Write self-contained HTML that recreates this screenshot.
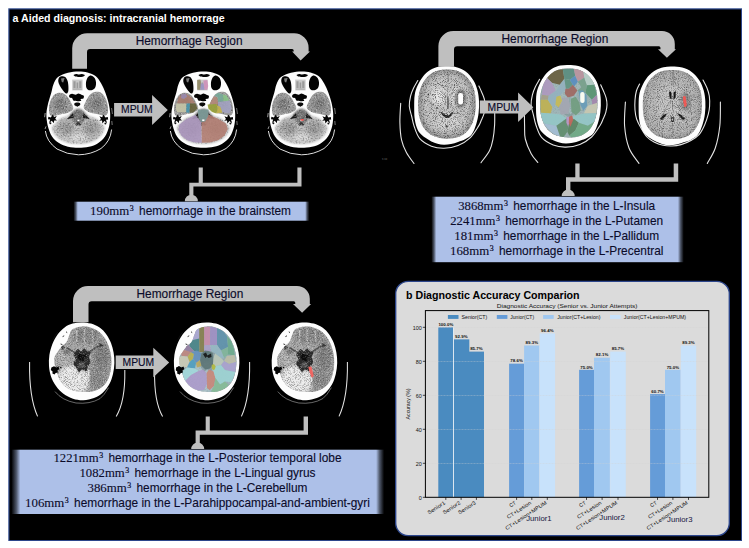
<!DOCTYPE html>
<html><head><meta charset="utf-8"><title>figure</title>
<style>
html,body{margin:0;padding:0;background:#fff;}
body{width:749px;height:548px;overflow:hidden;font-family:"Liberation Sans",sans-serif;}
svg{display:block;position:absolute;left:0;top:0;}
</style></head><body>
<svg width="749" height="548" viewBox="0 0 749 548">
<defs>
<filter id="soft" x="-5%" y="-30%" width="110%" height="160%"><feGaussianBlur stdDeviation="1.5 0.8"/></filter>
<filter id="spkB" x="0" y="0" width="100%" height="100%" color-interpolation-filters="sRGB"><feTurbulence type="fractalNoise" baseFrequency="1.1" numOctaves="2" seed="11"/><feColorMatrix type="matrix" values="0 0 0 0 0.28  0 0 0 0 0.28  0 0 0 0 0.28  3.4 0 0 0 -1.62"/><feGaussianBlur stdDeviation="0.4"/></filter>
<filter id="spkB3" x="0" y="0" width="100%" height="100%" color-interpolation-filters="sRGB"><feTurbulence type="fractalNoise" baseFrequency="1.1" numOctaves="2" seed="23"/><feColorMatrix type="matrix" values="0 0 0 0 0.2  0 0 0 0 0.2  0 0 0 0 0.2  3.0 0 0 0 -1.4"/><feGaussianBlur stdDeviation="0.4"/></filter>
<filter id="spkC" x="0" y="0" width="100%" height="100%" color-interpolation-filters="sRGB"><feTurbulence type="fractalNoise" baseFrequency="1.25" numOctaves="2" seed="5"/><feColorMatrix type="matrix" values="0 0 0 0 0.2  0 0 0 0 0.2  0 0 0 0 0.2  3.4 0 0 0 -1.5"/><feGaussianBlur stdDeviation="0.4"/></filter>
<filter id="spkA" x="0" y="0" width="100%" height="100%" color-interpolation-filters="sRGB"><feTurbulence type="fractalNoise" baseFrequency="0.6" numOctaves="2" seed="3"/><feColorMatrix type="matrix" values="0 0 0 0 0.0  0 0 0 0 0.0  0 0 0 0 0.0  3.0 0 0 0 -1.45"/><feGaussianBlur stdDeviation="0.4"/></filter>
<filter id="spkW" x="0" y="0" width="100%" height="100%" color-interpolation-filters="sRGB"><feTurbulence type="fractalNoise" baseFrequency="0.9" numOctaves="2" seed="17"/><feColorMatrix type="matrix" values="0 0 0 0 1.0  0 0 0 0 1.0  0 0 0 0 1.0  3.2 0 0 0 -1.65"/><feGaussianBlur stdDeviation="0.4"/></filter>
<filter id="spkCol" x="0" y="0" width="100%" height="100%" color-interpolation-filters="sRGB"><feTurbulence type="fractalNoise" baseFrequency="1.0" numOctaves="2" seed="31"/><feColorMatrix type="matrix" values="0 0 0 0 0.15  0 0 0 0 0.15  0 0 0 0 0.15  3 0 0 0 -1.35"/><feGaussianBlur stdDeviation="0.4"/></filter>
<filter id="b06"><feGaussianBlur stdDeviation="0.6"/></filter>
<filter id="b1"><feGaussianBlur stdDeviation="1"/></filter>
<filter id="b15"><feGaussianBlur stdDeviation="1.5"/></filter>
<filter id="b2"><feGaussianBlur stdDeviation="2.2"/></filter>
<filter id="b3"><feGaussianBlur stdDeviation="3.2"/></filter>
<filter id="b03"><feGaussianBlur stdDeviation="0.35"/></filter>
<clipPath id="clipA"><path d="M78.5 71.6C81.75 71.57 84.62 71.83 87.5 72.6C90.38 73.37 93.52 74.38 95.8 76.2C98.08 78.02 99.58 80.7 101.2 83.5C102.82 86.3 104.27 89.75 105.5 93C106.73 96.25 107.82 99.5 108.6 103C109.38 106.5 110.1 110.17 110.2 114C110.3 117.83 110.07 122.25 109.2 126C108.33 129.75 106.87 133.63 105 136.5C103.13 139.37 100.67 141.48 98 143.2C95.33 144.92 92.25 146.03 89 146.8C85.75 147.57 82 147.8 78.5 147.8C75 147.8 71.25 147.6 68 146.8C64.75 146 61.67 144.72 59 143C56.33 141.28 53.87 139.33 52 136.5C50.13 133.67 48.73 129.75 47.8 126C46.87 122.25 46.33 117.83 46.4 114C46.47 110.17 47.4 106.5 48.2 103C49 99.5 50.3 96.17 51.2 93C52.1 89.83 52.47 86.67 53.6 84C54.73 81.33 55.6 78.87 58 77C60.4 75.13 64.58 73.7 68 72.8C71.42 71.9 75.25 71.63 78.5 71.6Z"/></clipPath>
<clipPath id="clipAtissue"><path d="M54.6 94.6C56.33 93.13 58.63 92.63 60.6 92.8C62.57 92.97 64.67 94 66.4 95.6C68.13 97.2 69.87 100.27 71 102.4C72.13 104.53 73.63 106.73 73.2 108.4C72.77 110.07 70.6 111.4 68.4 112.4C66.2 113.4 62.83 113.8 60 114.4C57.17 115 53.23 116.67 51.4 116C49.57 115.33 49.2 112.8 49 110.4C48.8 108 49.27 104.23 50.2 101.6C51.13 98.97 52.87 96.07 54.6 94.6Z"/><path d="M102 93.4C100.27 91.93 97.97 91.6 96 91.8C94.03 92 91.9 92.97 90.2 94.6C88.5 96.23 86.87 99.4 85.8 101.6C84.73 103.8 83.33 106.07 83.8 107.8C84.27 109.53 86.4 110.97 88.6 112C90.8 113.03 94.17 113.4 97 114C99.83 114.6 103.77 116.27 105.6 115.6C107.43 114.93 107.87 112.5 108 110C108.13 107.5 107.4 103.37 106.4 100.6C105.4 97.83 103.73 94.87 102 93.4Z"/><path d="M78.3 108.5C79.87 108.5 81.38 109.33 83 110.5C84.62 111.67 85.83 114.17 88 115.5C90.17 116.83 93.83 117.17 96 118.5C98.17 119.83 99.57 121.92 101 123.5C102.43 125.08 104.52 126.08 104.6 128C104.68 129.92 103.1 132.95 101.5 135C99.9 137.05 97.58 138.92 95 140.3C92.42 141.68 88.78 142.7 86 143.3C83.22 143.9 80.97 143.9 78.3 143.9C75.63 143.9 72.8 143.9 70 143.3C67.2 142.7 64 141.68 61.5 140.3C59 138.92 56.58 137.05 55 135C53.42 132.95 51.92 129.92 52 128C52.08 126.08 54.08 125.08 55.5 123.5C56.92 121.92 58.33 119.83 60.5 118.5C62.67 117.17 66.32 116.83 68.5 115.5C70.68 114.17 71.97 111.67 73.6 110.5C75.23 109.33 76.73 108.5 78.3 108.5Z"/></clipPath>
<g id="brainA">
<path d="M78.5 71.6C81.75 71.57 84.62 71.83 87.5 72.6C90.38 73.37 93.52 74.38 95.8 76.2C98.08 78.02 99.58 80.7 101.2 83.5C102.82 86.3 104.27 89.75 105.5 93C106.73 96.25 107.82 99.5 108.6 103C109.38 106.5 110.1 110.17 110.2 114C110.3 117.83 110.07 122.25 109.2 126C108.33 129.75 106.87 133.63 105 136.5C103.13 139.37 100.67 141.48 98 143.2C95.33 144.92 92.25 146.03 89 146.8C85.75 147.57 82 147.8 78.5 147.8C75 147.8 71.25 147.6 68 146.8C64.75 146 61.67 144.72 59 143C56.33 141.28 53.87 139.33 52 136.5C50.13 133.67 48.73 129.75 47.8 126C46.87 122.25 46.33 117.83 46.4 114C46.47 110.17 47.4 106.5 48.2 103C49 99.5 50.3 96.17 51.2 93C52.1 89.83 52.47 86.67 53.6 84C54.73 81.33 55.6 78.87 58 77C60.4 75.13 64.58 73.7 68 72.8C71.42 71.9 75.25 71.63 78.5 71.6Z" fill="#fdfdfd"/>
<g clip-path="url(#clipA)">
<path d="M54.6 94.6C56.33 93.13 58.63 92.63 60.6 92.8C62.57 92.97 64.67 94 66.4 95.6C68.13 97.2 69.87 100.27 71 102.4C72.13 104.53 73.63 106.73 73.2 108.4C72.77 110.07 70.6 111.4 68.4 112.4C66.2 113.4 62.83 113.8 60 114.4C57.17 115 53.23 116.67 51.4 116C49.57 115.33 49.2 112.8 49 110.4C48.8 108 49.27 104.23 50.2 101.6C51.13 98.97 52.87 96.07 54.6 94.6Z" fill="#9a9a9a" filter="url(#b06)"/>
<path d="M102 93.4C100.27 91.93 97.97 91.6 96 91.8C94.03 92 91.9 92.97 90.2 94.6C88.5 96.23 86.87 99.4 85.8 101.6C84.73 103.8 83.33 106.07 83.8 107.8C84.27 109.53 86.4 110.97 88.6 112C90.8 113.03 94.17 113.4 97 114C99.83 114.6 103.77 116.27 105.6 115.6C107.43 114.93 107.87 112.5 108 110C108.13 107.5 107.4 103.37 106.4 100.6C105.4 97.83 103.73 94.87 102 93.4Z" fill="#9a9a9a" filter="url(#b06)"/>
<path d="M78.3 108.5C79.87 108.5 81.38 109.33 83 110.5C84.62 111.67 85.83 114.17 88 115.5C90.17 116.83 93.83 117.17 96 118.5C98.17 119.83 99.57 121.92 101 123.5C102.43 125.08 104.52 126.08 104.6 128C104.68 129.92 103.1 132.95 101.5 135C99.9 137.05 97.58 138.92 95 140.3C92.42 141.68 88.78 142.7 86 143.3C83.22 143.9 80.97 143.9 78.3 143.9C75.63 143.9 72.8 143.9 70 143.3C67.2 142.7 64 141.68 61.5 140.3C59 138.92 56.58 137.05 55 135C53.42 132.95 51.92 129.92 52 128C52.08 126.08 54.08 125.08 55.5 123.5C56.92 121.92 58.33 119.83 60.5 118.5C62.67 117.17 66.32 116.83 68.5 115.5C70.68 114.17 71.97 111.67 73.6 110.5C75.23 109.33 76.73 108.5 78.3 108.5Z" fill="#bcbcbc" filter="url(#b1)"/>
<path d="M78.3 109.2C79.72 109.2 81.18 109.87 82.5 111C83.82 112.13 86.03 114.25 86.2 116C86.37 117.75 84.82 120.13 83.5 121.5C82.18 122.87 80.05 124.2 78.3 124.2C76.55 124.2 74.33 122.87 73 121.5C71.67 120.13 70.13 117.75 70.3 116C70.47 114.25 72.67 112.13 74 111C75.33 109.87 76.88 109.2 78.3 109.2Z" fill="#727272" filter="url(#b1)"/>
<ellipse cx="60.5" cy="105" rx="6" ry="6.5" fill="#7c7c7c" filter="url(#b2)"/>
<ellipse cx="96.5" cy="104" rx="6" ry="6.5" fill="#7c7c7c" filter="url(#b2)"/>
<ellipse cx="66" cy="128" rx="8" ry="7" fill="#8c8c8c" opacity="0.75" filter="url(#b2)"/>
<ellipse cx="91" cy="128" rx="8" ry="7" fill="#8c8c8c" opacity="0.75" filter="url(#b2)"/>
<ellipse cx="78.3" cy="138" rx="9" ry="4" fill="#d8d8d8" opacity="0.8" filter="url(#b15)"/>
<path d="M75.2 124.2 L78.3 121.6 L81.4 124.2 L80 126 L78.3 124.6 L76.6 126 Z" fill="#3a3a3a"/>
<rect x="77.4" y="119.6" width="2" height="1.6" fill="#fff"/>
<path d="M73.2 113 L66.6 119.2 L73.8 117.8 Z" fill="#1c1c1c"/>
<path d="M83.4 113 L90 119.2 L82.8 117.8 Z" fill="#1c1c1c"/>
<g opacity="0.3"><rect x="46" y="90" width="65" height="56" filter="url(#spkA)" clip-path="url(#clipAtissue)"/></g>
<g opacity="0.4"><rect x="46" y="90" width="65" height="56" filter="url(#spkW)" clip-path="url(#clipAtissue)"/></g>
<rect x="72.2" y="79.6" width="10.4" height="10.8" fill="#c9c9c9"/>
<path d="M73.4 81.2h2.2v6.8h-2.2z M76.6 82.6h1.6v6h-1.6z M79.2 81.2h2.2v6.8h-2.2z" fill="#9a9a9a"/>
<rect x="73" y="88.4" width="8.8" height="1.6" fill="#b4b4b4"/>
<path d="M61.4 76.2C62.43 76.07 64.17 76.2 65.2 77C66.23 77.8 67.07 79.42 67.6 81C68.13 82.58 68.3 84.75 68.4 86.5C68.5 88.25 68.55 90.32 68.2 91.5C67.85 92.68 67.17 93.77 66.3 93.6C65.43 93.43 64.05 91.77 63 90.5C61.95 89.23 60.78 87.5 60 86C59.22 84.5 58.47 82.87 58.3 81.5C58.13 80.13 58.48 78.68 59 77.8C59.52 76.92 60.37 76.33 61.4 76.2Z" fill="#030303"/>
<path d="M91.5 75.8C92.37 76.13 93.85 76.88 94.6 78C95.35 79.12 95.87 81 96 82.5C96.13 84 95.93 85.78 95.4 87C94.87 88.22 93.9 89.27 92.8 89.8C91.7 90.33 89.87 90.53 88.8 90.2C87.73 89.87 86.87 89.08 86.4 87.8C85.93 86.52 85.83 84.13 86 82.5C86.17 80.87 86.83 79.08 87.4 78C87.97 76.92 88.72 76.37 89.4 76C90.08 75.63 90.63 75.47 91.5 75.8Z" fill="#030303"/>
<path d="M61 78.6 L64.6 78 L63.2 82.4 L61.8 82 Z" fill="#7a7a7a"/>
<path d="M73.6 75C73.68 74.55 75.1 73.97 76 73.9C76.9 73.83 78 74.58 79 74.6C80 74.62 81.03 73.9 82 74C82.97 74.1 84.7 74.75 84.8 75.2C84.9 75.65 83.57 76.4 82.6 76.7C81.63 77 80.18 77.02 79 77C77.82 76.98 76.4 76.93 75.5 76.6C74.6 76.27 73.52 75.45 73.6 75Z" fill="#050505"/>
<path d="M69.2 95.4C69.57 94.77 70.93 93.9 72 93.8C73.07 93.7 74.52 94.83 75.6 94.8C76.68 94.77 77.53 93.6 78.5 93.6C79.47 93.6 80.52 94.43 81.4 94.8C82.28 95.17 83.47 95.2 83.8 95.8C84.13 96.4 83.93 97.87 83.4 98.4C82.87 98.93 80.97 98.6 80.6 99C80.23 99.4 81.7 100.43 81.2 100.8C80.7 101.17 78.9 101.23 77.6 101.2C76.3 101.17 74.27 101.07 73.4 100.6C72.53 100.13 73 98.9 72.4 98.4C71.8 97.9 70.33 98.1 69.8 97.6C69.27 97.1 68.83 96.03 69.2 95.4Z" fill="#040404"/>
<path d="M74.4 103.4C74.82 102.87 76.43 102.57 77.4 102.6C78.37 102.63 79.83 103.03 80.2 103.6C80.57 104.17 80.1 105.45 79.6 106C79.1 106.55 77.98 106.93 77.2 106.9C76.42 106.87 75.37 106.38 74.9 105.8C74.43 105.22 73.98 103.93 74.4 103.4Z" fill="#0a0a0a"/>
<path d="M74.6 105.8 Q77.3 108.6 80 105.8" stroke="#fff" stroke-width="0.9" fill="none"/>
<path d="M48.4 116.8L50.8 117.4L52.8 114.4L54 117L56.8 116L55.2 118.8L57 120.6L54.2 120.4L53.8 123.2L51.8 120.8L49 123L50.2 119.6L48 119.2Z" fill="#050505"/>
<path d="M107.8 117L105.4 117.6L103.4 114.6L102.2 117.2L99.4 116.2L101 119L99.2 120.8L102 120.6L102.4 123.4L104.4 121L107.2 123.2L106 119.8L108.2 119.4Z" fill="#050505"/>
<circle cx="50.4" cy="123.2" r="1" fill="#111"/><circle cx="105.4" cy="123.4" r="1" fill="#111"/>
</g>
<path d="M45.4 131 Q46.6 141.5 57 149 Q67 154.6 78.5 154.8 Q91 154.6 101 148.5 Q110.4 141.5 111.6 129.5" fill="none" stroke="#f6f6f6" stroke-width="1" opacity="0.9"/>
<path d="M45.2 113 L44.6 117.2 M46 126.4 L45 129" stroke="#eee" stroke-width="0.8" opacity="0.8"/>
<path d="M111.6 108 L112.4 114 M111.8 121 L112.2 125" stroke="#eee" stroke-width="0.7" opacity="0.7"/>
</g>
<clipPath id="clipA2t"><path d="M78.5 71.6C81.75 71.57 84.62 71.83 87.5 72.6C90.38 73.37 93.52 74.38 95.8 76.2C98.08 78.02 99.58 80.7 101.2 83.5C102.82 86.3 104.27 89.75 105.5 93C106.73 96.25 107.82 99.5 108.6 103C109.38 106.5 110.1 110.17 110.2 114C110.3 117.83 110.07 122.25 109.2 126C108.33 129.75 106.87 133.63 105 136.5C103.13 139.37 100.67 141.48 98 143.2C95.33 144.92 92.25 146.03 89 146.8C85.75 147.57 82 147.8 78.5 147.8C75 147.8 71.25 147.6 68 146.8C64.75 146 61.67 144.72 59 143C56.33 141.28 53.87 139.33 52 136.5C50.13 133.67 48.73 129.75 47.8 126C46.87 122.25 46.33 117.83 46.4 114C46.47 110.17 47.4 106.5 48.2 103C49 99.5 50.3 96.17 51.2 93C52.1 89.83 52.47 86.67 53.6 84C54.73 81.33 55.6 78.87 58 77C60.4 75.13 64.58 73.7 68 72.8C71.42 71.9 75.25 71.63 78.5 71.6Z" transform="translate(125 0)"/></clipPath>
<clipPath id="clipA2tis"><g transform="translate(125 0)"><path d="M54.6 94.6C56.33 93.13 58.63 92.63 60.6 92.8C62.57 92.97 64.67 94 66.4 95.6C68.13 97.2 69.87 100.27 71 102.4C72.13 104.53 73.63 106.73 73.2 108.4C72.77 110.07 70.6 111.4 68.4 112.4C66.2 113.4 62.83 113.8 60 114.4C57.17 115 53.23 116.67 51.4 116C49.57 115.33 49.2 112.8 49 110.4C48.8 108 49.27 104.23 50.2 101.6C51.13 98.97 52.87 96.07 54.6 94.6Z"/><path d="M102 93.4C100.27 91.93 97.97 91.6 96 91.8C94.03 92 91.9 92.97 90.2 94.6C88.5 96.23 86.87 99.4 85.8 101.6C84.73 103.8 83.33 106.07 83.8 107.8C84.27 109.53 86.4 110.97 88.6 112C90.8 113.03 94.17 113.4 97 114C99.83 114.6 103.77 116.27 105.6 115.6C107.43 114.93 107.87 112.5 108 110C108.13 107.5 107.4 103.37 106.4 100.6C105.4 97.83 103.73 94.87 102 93.4Z"/><path d="M78.3 108.5C79.87 108.5 81.38 109.33 83 110.5C84.62 111.67 85.83 114.17 88 115.5C90.17 116.83 93.83 117.17 96 118.5C98.17 119.83 99.57 121.92 101 123.5C102.43 125.08 104.52 126.08 104.6 128C104.68 129.92 103.1 132.95 101.5 135C99.9 137.05 97.58 138.92 95 140.3C92.42 141.68 88.78 142.7 86 143.3C83.22 143.9 80.97 143.9 78.3 143.9C75.63 143.9 72.8 143.9 70 143.3C67.2 142.7 64 141.68 61.5 140.3C59 138.92 56.58 137.05 55 135C53.42 132.95 51.92 129.92 52 128C52.08 126.08 54.08 125.08 55.5 123.5C56.92 121.92 58.33 119.83 60.5 118.5C62.67 117.17 66.32 116.83 68.5 115.5C70.68 114.17 71.97 111.67 73.6 110.5C75.23 109.33 76.73 108.5 78.3 108.5Z"/></g></clipPath>
<clipPath id="clipBi"><path d="M446.6 69.6C449.37 69.67 453.07 69.73 456 70.6C458.93 71.47 461.77 72.9 464.2 74.8C466.63 76.7 468.9 79.3 470.6 82C472.3 84.7 473.57 87.83 474.4 91C475.23 94.17 475.47 97.5 475.6 101C475.73 104.5 475.7 108.43 475.2 112C474.7 115.57 473.9 119.23 472.6 122.4C471.3 125.57 469.57 128.63 467.4 131C465.23 133.37 462.53 135.33 459.6 136.6C456.67 137.87 453.07 138.37 449.8 138.6C446.53 138.83 443.2 138.67 440 138C436.8 137.33 433.33 136.33 430.6 134.6C427.87 132.87 425.43 130.37 423.6 127.6C421.77 124.83 420.5 121.37 419.6 118C418.7 114.63 418.37 110.97 418.2 107.4C418.03 103.83 418.1 100.07 418.6 96.6C419.1 93.13 419.97 89.63 421.2 86.6C422.43 83.57 424.13 80.7 426 78.4C427.87 76.1 430.17 74.17 432.4 72.8C434.63 71.43 437.03 70.73 439.4 70.2C441.77 69.67 443.83 69.53 446.6 69.6Z"/></clipPath>
<g id="brainB">
<path d="M446.6 66.1C449.62 66.17 453.27 66.25 456.5 67.2C459.73 68.15 463.22 69.67 466 71.8C468.78 73.93 471.3 76.97 473.2 80C475.1 83.03 476.43 86.5 477.4 90C478.37 93.5 478.8 97.17 479 101C479.2 104.83 479.07 109.12 478.6 113C478.13 116.88 477.3 120.82 476.2 124.3C475.1 127.78 473.78 131.45 472 133.9C470.22 136.35 467.83 137.67 465.5 139C463.17 140.33 460.42 141.07 458 141.9C455.58 142.73 453.33 143.52 451 144C448.67 144.48 446.25 144.83 444 144.8C441.75 144.77 439.6 144.37 437.5 143.8C435.4 143.23 433.48 142.43 431.4 141.4C429.32 140.37 426.97 139.03 425 137.6C423.03 136.17 421.03 134.67 419.6 132.8C418.17 130.93 417.23 128.87 416.4 126.4C415.57 123.93 414.97 121.23 414.6 118C414.23 114.77 414.18 110.83 414.2 107C414.22 103.17 414.13 98.57 414.7 95C415.27 91.43 416.18 88.73 417.6 85.6C419.02 82.47 421.03 78.83 423.2 76.2C425.37 73.57 428.07 71.37 430.6 69.8C433.13 68.23 435.73 67.42 438.4 66.8C441.07 66.18 443.58 66.03 446.6 66.1Z" fill="#fdfdfd"/>
<g clip-path="url(#clipBi)">
<rect x="414" y="66" width="66" height="78" fill="#c2c2c2"/>
<ellipse cx="438.6" cy="96" rx="7" ry="8.6" fill="#e4e4e4" filter="url(#b2)"/>
<ellipse cx="455.4" cy="96" rx="6" ry="8.6" fill="#dedede" filter="url(#b2)"/>
<ellipse cx="447.4" cy="122" rx="12" ry="8" fill="#d2d2d2" filter="url(#b2)"/>
<path d="M446.6 69.6C449.37 69.67 453.07 69.73 456 70.6C458.93 71.47 461.77 72.9 464.2 74.8C466.63 76.7 468.9 79.3 470.6 82C472.3 84.7 473.57 87.83 474.4 91C475.23 94.17 475.47 97.5 475.6 101C475.73 104.5 475.7 108.43 475.2 112C474.7 115.57 473.9 119.23 472.6 122.4C471.3 125.57 469.57 128.63 467.4 131C465.23 133.37 462.53 135.33 459.6 136.6C456.67 137.87 453.07 138.37 449.8 138.6C446.53 138.83 443.2 138.67 440 138C436.8 137.33 433.33 136.33 430.6 134.6C427.87 132.87 425.43 130.37 423.6 127.6C421.77 124.83 420.5 121.37 419.6 118C418.7 114.63 418.37 110.97 418.2 107.4C418.03 103.83 418.1 100.07 418.6 96.6C419.1 93.13 419.97 89.63 421.2 86.6C422.43 83.57 424.13 80.7 426 78.4C427.87 76.1 430.17 74.17 432.4 72.8C434.63 71.43 437.03 70.73 439.4 70.2C441.77 69.67 443.83 69.53 446.6 69.6Z" fill="none" stroke="#747474" stroke-width="8" opacity="0.62" filter="url(#b2)"/>
<ellipse cx="460.6" cy="98.4" rx="5.8" ry="9.4" fill="#646464" opacity="0.75" filter="url(#b1)"/>
<path d="M448 73 L448.3 81" stroke="#4c4c4c" stroke-width="1" opacity="0.5"/>
<path d="M447.9 96.6 L448 108.4" stroke="#3a3a3a" stroke-width="1.3" opacity="0.8"/>
<path d="M441.6 90 Q444.6 92.6 445.4 97 M454.4 90 Q451.4 92.6 450.6 97" stroke="#666" stroke-width="0.9" fill="none" opacity="0.4"/>
<path d="M440.2 111.8 Q442.6 112 444.6 114.2 Q446.8 116.4 447.2 113.8 Q447.8 116.4 449.8 114.4 Q451.6 112 453.4 112 Q452.6 115.6 449.4 117.4 Q447.2 118.4 445 117.4 Q441.6 115.6 440.2 111.8Z" fill="#1e1e1e"/>
<circle cx="446.6" cy="126.4" r="1.1" fill="#2c2c2c"/>
<circle cx="428.2" cy="94.6" r="0.9" fill="#333"/><circle cx="433" cy="104.8" r="0.8" fill="#333"/><circle cx="437" cy="108" r="0.9" fill="#444"/>
<rect x="414" y="66" width="66" height="78" filter="url(#spkB)" opacity="0.8"/>
<rect x="414" y="66" width="66" height="78" filter="url(#spkW)" opacity="0.3"/>
<rect x="458.2" y="93" width="4.8" height="11.4" rx="2.2" fill="#fff"/>
</g>
<path d="M417.8 80.5C417.1 81.75 414.8 85.42 413.6 88C412.4 90.58 411.32 93 410.6 96C409.88 99 409.13 102.67 409.3 106C409.47 109.33 410.78 112.58 411.6 116C412.42 119.42 412.83 122.73 414.2 126.5C415.57 130.27 416.93 135.32 419.8 138.6C422.67 141.88 427.37 144.58 431.4 146.2C435.43 147.82 439.57 148.4 444 148.3C448.43 148.2 453.7 147.28 458 145.6C462.3 143.92 466.4 141.4 469.8 138.2C473.2 135 476.47 129.43 478.4 126.4C480.33 123.37 480.47 122.13 481.4 120C482.33 117.87 483.37 115.93 484 113.6C484.63 111.27 485.15 108.43 485.2 106C485.25 103.57 484.9 101.33 484.3 99C483.7 96.67 482.5 94.17 481.6 92C480.7 89.83 479.35 87 478.9 86" fill="none" stroke="#f8f8f8" stroke-width="1.1" stroke-linecap="round" opacity="0.92"/>
</g>
<g id="brainB3">
<path d="M446.6 66.1C449.62 66.17 453.27 66.25 456.5 67.2C459.73 68.15 463.22 69.67 466 71.8C468.78 73.93 471.3 76.97 473.2 80C475.1 83.03 476.43 86.5 477.4 90C478.37 93.5 478.8 97.17 479 101C479.2 104.83 479.07 109.12 478.6 113C478.13 116.88 477.3 120.82 476.2 124.3C475.1 127.78 473.78 131.45 472 133.9C470.22 136.35 467.83 137.67 465.5 139C463.17 140.33 460.42 141.07 458 141.9C455.58 142.73 453.33 143.52 451 144C448.67 144.48 446.25 144.83 444 144.8C441.75 144.77 439.6 144.37 437.5 143.8C435.4 143.23 433.48 142.43 431.4 141.4C429.32 140.37 426.97 139.03 425 137.6C423.03 136.17 421.03 134.67 419.6 132.8C418.17 130.93 417.23 128.87 416.4 126.4C415.57 123.93 414.97 121.23 414.6 118C414.23 114.77 414.18 110.83 414.2 107C414.22 103.17 414.13 98.57 414.7 95C415.27 91.43 416.18 88.73 417.6 85.6C419.02 82.47 421.03 78.83 423.2 76.2C425.37 73.57 428.07 71.37 430.6 69.8C433.13 68.23 435.73 67.42 438.4 66.8C441.07 66.18 443.58 66.03 446.6 66.1Z" fill="#fdfdfd"/>
<g clip-path="url(#clipBi)">
<rect x="414" y="66" width="66" height="78" fill="#b2b2b2"/>
<ellipse cx="447" cy="104" rx="16" ry="20" fill="#c2c2c2" filter="url(#b3)"/>
<path d="M446.6 69.6C449.37 69.67 453.07 69.73 456 70.6C458.93 71.47 461.77 72.9 464.2 74.8C466.63 76.7 468.9 79.3 470.6 82C472.3 84.7 473.57 87.83 474.4 91C475.23 94.17 475.47 97.5 475.6 101C475.73 104.5 475.7 108.43 475.2 112C474.7 115.57 473.9 119.23 472.6 122.4C471.3 125.57 469.57 128.63 467.4 131C465.23 133.37 462.53 135.33 459.6 136.6C456.67 137.87 453.07 138.37 449.8 138.6C446.53 138.83 443.2 138.67 440 138C436.8 137.33 433.33 136.33 430.6 134.6C427.87 132.87 425.43 130.37 423.6 127.6C421.77 124.83 420.5 121.37 419.6 118C418.7 114.63 418.37 110.97 418.2 107.4C418.03 103.83 418.1 100.07 418.6 96.6C419.1 93.13 419.97 89.63 421.2 86.6C422.43 83.57 424.13 80.7 426 78.4C427.87 76.1 430.17 74.17 432.4 72.8C434.63 71.43 437.03 70.73 439.4 70.2C441.77 69.67 443.83 69.53 446.6 69.6Z" fill="none" stroke="#868686" stroke-width="6" opacity="0.5" filter="url(#b2)"/>
<path d="M447.6 70 L447.8 86" stroke="#5a5a5a" stroke-width="0.9" opacity="0.7"/>
<path d="M443.8 91.4 Q445.6 90.6 446.1 93 L446.2 98.8 Q444.8 99.2 444.1 96.4 Z" fill="#101010"/>
<path d="M450.4 91.4 Q448.6 90.6 448.1 93 L448 98.8 Q449.4 99.2 450.1 96.4 Z" fill="#101010"/>
<path d="M447.1 100 L447.2 110" stroke="#4a4a4a" stroke-width="0.9" opacity="0.5"/>
<path d="M445.4 100 Q440.6 106 437.4 115.4 M448.8 100 Q453.6 106 456.8 115.4" stroke="#6a6a6a" stroke-width="0.9" fill="none" opacity="0.5"/>
<path d="M434.6 118.6 Q437.6 114 442.4 112.6 Q440.6 116 437 119.6 Z" fill="#181818"/>
<path d="M459.4 118.6 Q456.4 114 451.6 112.6 Q453.4 116 457 119.6 Z" fill="#181818"/>
<path d="M445.2 116.8 L449 116.8 L448.2 121.6 L446 121.6 Z" fill="#1c1c1c"/>
<rect x="446.3" y="118.2" width="1.6" height="1.7" fill="#f6f6f6"/>
<path d="M447.2 122 L447.4 134" stroke="#666" stroke-width="0.8" opacity="0.6"/>
<ellipse cx="459.4" cy="101" rx="5.4" ry="9.6" fill="#747474" opacity="0.7" filter="url(#b15)"/>
<rect x="414" y="66" width="66" height="78" filter="url(#spkB3)" opacity="0.6"/>
<rect x="414" y="66" width="66" height="78" filter="url(#spkW)" opacity="0.35"/>
<path d="M457.2 96.2 Q458.6 94.8 459.9 96.2 L461 104.4 Q460.4 107.2 458.6 106.6 Q457.2 102 457.2 96.2Z" fill="#ec5a56"/>
</g>
</g>
<clipPath id="clipB2i"><path d="M446.6 69.6C449.37 69.67 453.07 69.73 456 70.6C458.93 71.47 461.77 72.9 464.2 74.8C466.63 76.7 468.9 79.3 470.6 82C472.3 84.7 473.57 87.83 474.4 91C475.23 94.17 475.47 97.5 475.6 101C475.73 104.5 475.7 108.43 475.2 112C474.7 115.57 473.9 119.23 472.6 122.4C471.3 125.57 469.57 128.63 467.4 131C465.23 133.37 462.53 135.33 459.6 136.6C456.67 137.87 453.07 138.37 449.8 138.6C446.53 138.83 443.2 138.67 440 138C436.8 137.33 433.33 136.33 430.6 134.6C427.87 132.87 425.43 130.37 423.6 127.6C421.77 124.83 420.5 121.37 419.6 118C418.7 114.63 418.37 110.97 418.2 107.4C418.03 103.83 418.1 100.07 418.6 96.6C419.1 93.13 419.97 89.63 421.2 86.6C422.43 83.57 424.13 80.7 426 78.4C427.87 76.1 430.17 74.17 432.4 72.8C434.63 71.43 437.03 70.73 439.4 70.2C441.77 69.67 443.83 69.53 446.6 69.6Z" transform="translate(121.8 -1.2)"/></clipPath>
<clipPath id="clipCi"><path d="M82 326.4C84.97 326.13 87.73 326.63 90.4 327.4C93.07 328.17 95.73 329.4 98 331C100.27 332.6 102.3 334.67 104 337C105.7 339.33 107.07 342.17 108.2 345C109.33 347.83 110.27 350.9 110.8 354C111.33 357.1 111.53 360.33 111.4 363.6C111.27 366.87 110.8 370.53 110 373.6C109.2 376.67 108.17 379.6 106.6 382C105.03 384.4 102.93 386.43 100.6 388C98.27 389.57 95.53 390.73 92.6 391.4C89.67 392.07 86.1 392.1 83 392C79.9 391.9 76.83 391.63 74 390.8C71.17 389.97 68.27 388.63 66 387C63.73 385.37 61.8 383.07 60.4 381C59 378.93 58.5 377.1 57.6 374.6C56.7 372.1 55.53 368.77 55 366C54.47 363.23 53.97 360.33 54.4 358C54.83 355.67 56.4 353.93 57.6 352C58.8 350.07 60.1 348.07 61.6 346.4C63.1 344.73 65.3 343.9 66.6 342C67.9 340.1 68.4 337.17 69.4 335C70.4 332.83 70.5 330.43 72.6 329C74.7 327.57 79.03 326.67 82 326.4Z"/></clipPath>
<g id="brainC">
<path d="M81.6 322.4C84.67 322.4 88 322.73 91 323.6C94 324.47 97.03 325.8 99.6 327.6C102.17 329.4 104.5 331.83 106.4 334.4C108.3 336.97 109.8 339.97 111 343C112.2 346.03 113.03 349.27 113.6 352.6C114.17 355.93 114.5 359.43 114.4 363C114.3 366.57 113.83 370.5 113 374C112.17 377.5 111.07 380.93 109.4 384C107.73 387.07 105.57 390.07 103 392.4C100.43 394.73 97.27 396.7 94 398C90.73 399.3 86.9 400.08 83.4 400.2C79.9 400.32 76.33 399.77 73 398.7C69.67 397.63 66.23 395.92 63.4 393.8C60.57 391.68 58.07 388.9 56 386C53.93 383.1 52.17 379.73 51 376.4C49.83 373.07 49.27 369.57 49 366C48.73 362.43 48.83 358.67 49.4 355C49.97 351.33 51.03 347.43 52.4 344C53.77 340.57 55.57 337.17 57.6 334.4C59.63 331.63 62.1 329.2 64.6 327.4C67.1 325.6 69.77 324.43 72.6 323.6C75.43 322.77 78.53 322.4 81.6 322.4Z" fill="#fdfdfd"/>
<g clip-path="url(#clipCi)">
<rect x="48" y="322" width="68" height="78" fill="#a8a8a8"/>
<path d="M59 372C60.07 369.4 63.5 367.4 66 366.4C68.5 365.4 71.67 365.3 74 366C76.33 366.7 77.57 369.6 80 370.6C82.43 371.6 87.1 369.43 88.6 372C90.1 374.57 90.27 382.5 89 386C87.73 389.5 84.5 392.33 81 393C77.5 393.67 71.57 391.83 68 390C64.43 388.17 61.1 385 59.6 382C58.1 379 57.93 374.6 59 372Z" fill="#ececec" filter="url(#b15)"/>
<path d="M90.4 368C92.07 364.33 96.73 361 100 360C103.27 359 108.5 359.33 110 362C111.5 364.67 110.17 372 109 376C107.83 380 105.67 383.5 103 386C100.33 388.5 95.17 391.67 93 391C90.83 390.33 90.43 385.83 90 382C89.57 378.17 88.73 371.67 90.4 368Z" fill="#9a9a9a" filter="url(#b15)"/>
<ellipse cx="86" cy="336" rx="14" ry="8" fill="#8a8a8a" filter="url(#b15)"/>
<path d="M77 330 L76.6 342 M84.4 329 L84.4 343 M92 330 L93.4 343" stroke="#c8c8c8" stroke-width="1.4" opacity="0.75" filter="url(#b06)"/>
<ellipse cx="64" cy="357" rx="8" ry="8" fill="#b4b4b4" filter="url(#b2)"/>
<ellipse cx="67" cy="352" rx="4" ry="3" fill="#7a7a7a" filter="url(#b15)"/>
<ellipse cx="101" cy="356" rx="8" ry="16" fill="#828282" filter="url(#b2)"/>
<ellipse cx="97" cy="380" rx="8" ry="8" fill="#8a8a8a" filter="url(#b2)"/>
<path d="M80 356 L66.6 347.6 M83 356 L98 346.4" stroke="#3c3c3c" stroke-width="1.7" opacity="0.7" filter="url(#b06)"/>
<path d="M75 352C75.73 351 77 349.08 78 349C79 348.92 80 351.57 81 351.5C82 351.43 83 348.68 84 348.6C85 348.52 85.9 350.37 87 351C88.1 351.63 90.27 351.4 90.6 352.4C90.93 353.4 89.03 355.4 89 357C88.97 358.6 90.57 360.4 90.4 362C90.23 363.6 88.67 365.1 88 366.6C87.33 368.1 87.4 370.53 86.4 371C85.4 371.47 83.23 369.23 82 369.4C80.77 369.57 79.93 372.23 79 372C78.07 371.77 77.33 369.33 76.4 368C75.47 366.67 73.57 365.5 73.4 364C73.23 362.5 75.37 360.5 75.4 359C75.43 357.5 73.67 356.17 73.6 355C73.53 353.83 74.27 353 75 352Z" fill="#2c2c2c" filter="url(#b06)"/>
<path d="M77.6 354 L80.6 352.4 L82 355.4 L85.6 353.6 L86.4 357 L83.4 358 L84 361 L80.4 360.4 L78 358 Z" fill="#0a0a0a"/>
<ellipse cx="81.6" cy="365" rx="3.2" ry="2.8" fill="#585858"/>
<path d="M60.6 344.6 L65.4 347.6 L62 350 Z M99 343 L103.6 345.6 L99.8 347.4 Z" fill="#2a2a2a" opacity="0.85"/>
<path d="M67 347.6 Q71 350.6 75.6 352.4 M96.6 347.4 Q92 350 88 352.4" stroke="#555" stroke-width="1.1" fill="none" opacity="0.45"/>
<path d="M97 347 L102.4 345.4" stroke="#333" stroke-width="1" opacity="0.5"/>
<path d="M88.8 369.6 L89 382" stroke="#f6f6f6" stroke-width="1.3" opacity="0.9"/>
<rect x="48" y="322" width="68" height="78" filter="url(#spkC)" opacity="0.42"/>
<rect x="48" y="322" width="68" height="78" filter="url(#spkW)" opacity="0.4"/>
</g>
<path d="M51.4 367.6L54 366.2L56.4 367.4L58.4 366.6L59.4 369L57.4 370.4L58 372.6L55.6 373L54.6 374.6L52.4 373.6L52.6 371.4L50.8 370Z" fill="#040404"/>
<circle cx="60.8" cy="367.6" r="0.8" fill="#111"/>
<path d="M62.6 336.6 l1.6 -0.8 M66 331.8 l1.2 0.8 M60.6 344 l1.8 0.6" stroke="#222" stroke-width="0.9"/>
<path d="M53 339.6 Q55.4 334.4 57.8 332" stroke="#111" stroke-width="0.9" fill="none"/>
<path d="M55 391.6 Q62 400.4 76 403 Q90 404.4 100 398.6 Q104 395.6 108.6 387.6" fill="none" stroke="#f4f4f4" stroke-width="0.85" opacity="0.5"/>
</g>
<clipPath id="clipC2i"><path d="M82 326.4C84.97 326.13 87.73 326.63 90.4 327.4C93.07 328.17 95.73 329.4 98 331C100.27 332.6 102.3 334.67 104 337C105.7 339.33 107.07 342.17 108.2 345C109.33 347.83 110.27 350.9 110.8 354C111.33 357.1 111.53 360.33 111.4 363.6C111.27 366.87 110.8 370.53 110 373.6C109.2 376.67 108.17 379.6 106.6 382C105.03 384.4 102.93 386.43 100.6 388C98.27 389.57 95.53 390.73 92.6 391.4C89.67 392.07 86.1 392.1 83 392C79.9 391.9 76.83 391.63 74 390.8C71.17 389.97 68.27 388.63 66 387C63.73 385.37 61.8 383.07 60.4 381C59 378.93 58.5 377.1 57.6 374.6C56.7 372.1 55.53 368.77 55 366C54.47 363.23 53.97 360.33 54.4 358C54.83 355.67 56.4 353.93 57.6 352C58.8 350.07 60.1 348.07 61.6 346.4C63.1 344.73 65.3 343.9 66.6 342C67.9 340.1 68.4 337.17 69.4 335C70.4 332.83 70.5 330.43 72.6 329C74.7 327.57 79.03 326.67 82 326.4Z" transform="translate(125 0)"/></clipPath>
<linearGradient id="lbg1" gradientUnits="userSpaceOnUse" x1="73.4" y1="0" x2="309.3" y2="0"><stop offset="0" stop-color="#adc0e8" stop-opacity="0"/><stop offset="0.0103" stop-color="#adc0e8" stop-opacity="0.45"/><stop offset="0.0187" stop-color="#adc0e8" stop-opacity="1"/><stop offset="0.9826" stop-color="#adc0e8" stop-opacity="1"/><stop offset="0.9904" stop-color="#adc0e8" stop-opacity="0.45"/><stop offset="1" stop-color="#adc0e8" stop-opacity="0"/></linearGradient>
<linearGradient id="lbg2" gradientUnits="userSpaceOnUse" x1="431.3" y1="0" x2="683.8" y2="0"><stop offset="0" stop-color="#adc0e8" stop-opacity="0"/><stop offset="0.0107" stop-color="#adc0e8" stop-opacity="0.45"/><stop offset="0.0194" stop-color="#adc0e8" stop-opacity="1"/><stop offset="0.9766" stop-color="#adc0e8" stop-opacity="1"/><stop offset="0.9871" stop-color="#adc0e8" stop-opacity="0.45"/><stop offset="1" stop-color="#adc0e8" stop-opacity="0"/></linearGradient>
<linearGradient id="lbg3" gradientUnits="userSpaceOnUse" x1="11.4" y1="0" x2="384.1" y2="0"><stop offset="0" stop-color="#adc0e8" stop-opacity="0"/><stop offset="0.0131" stop-color="#adc0e8" stop-opacity="0.45"/><stop offset="0.0239" stop-color="#adc0e8" stop-opacity="1"/><stop offset="0.9785" stop-color="#adc0e8" stop-opacity="1"/><stop offset="0.9882" stop-color="#adc0e8" stop-opacity="0.45"/><stop offset="1" stop-color="#adc0e8" stop-opacity="0"/></linearGradient>
</defs>
<rect x="0" y="0" width="749" height="548" fill="#fff"/>
<rect x="8.3" y="8.3" width="733.7" height="532.7" fill="#2c468a"/>
<rect x="9.5" y="9.5" width="731.5" height="530.5" fill="#000"/>
<text x="12.6" y="21.9" font-family='"Liberation Sans", sans-serif' font-size="10.2" font-weight="bold" fill="#fff" textLength="212" lengthAdjust="spacingAndGlyphs">a Aided diagnosis: intracranial hemorrage</text>
<use href="#brainA"/>
<use href="#brainA" x="125"/>
<use href="#brainA" x="223"/>
<g clip-path="url(#clipA2t)"><g filter="url(#b03)"><path d="M201.2 122.5L195.5 114.8L186.5 119L179.4 124.4L178.4 130L181.6 136L187.6 140.4L195 142.6L201.8 142.8Z" fill="#aa95bb" opacity="0.9"/><path d="M201.8 142.8L201.6 122.5L208.6 114.6L217.6 118.6L226 123.6L227.8 129L224.6 135.6L218.6 140L210 142.6Z" fill="#b27e72" opacity="0.9"/><path d="M197.6 109.4L208.6 109.4L208.2 116L205.2 121.4L201.4 122L198.6 118Z" fill="#7b9896" opacity="0.92"/><rect x="202.2" y="119.4" width="2.2" height="1.6" fill="#fff"/><path d="M178.6 97L181.6 94.4L186 93.8L191.2 97L195.4 103.4L177 103.4Z" fill="#a87d6e" opacity="0.9"/><path d="M181.4 94.4L185.6 93.6L187.2 96.6L184 99L181 98Z" fill="#978ab0" opacity="0.9"/><path d="M176.4 103.4L186.6 103.4L186.2 112.2L177 112.2L175.8 108Z" fill="#c4c4a7" opacity="0.92"/><path d="M186.6 103.4L190 103.4L189.6 112.8L186.2 112.4Z" fill="#4795ac" opacity="0.92"/><path d="M190 103.4L195.6 103.4L197.4 108.4L193.4 112.4L189.6 112.8Z" fill="#65633a" opacity="0.92"/><path d="M209.4 104.4L213.6 96.6L217.6 97.6L218 104.4Z" fill="#b48879" opacity="0.9"/><path d="M214.6 95L218.6 92.8L223 94.4L223.4 101.8L218 102L217.6 97.4Z" fill="#79ab9a" opacity="0.9"/><path d="M223 94.4L226.6 95.4L229.6 100.4L223.4 102Z" fill="#88c388" opacity="0.9"/><path d="M218 102L229.8 100.6L231.6 108L229.6 113.6L221.6 112L218.4 108Z" fill="#a3a3c1" opacity="0.9"/><path d="M207.6 104.6L216.6 104L217.6 108.6L216.4 113.4L212 112L208.4 108.4Z" fill="#98a139" opacity="0.92"/><path d="M216.6 105L220.4 107L222.4 112.4L216.4 113.4L217.6 108.6Z" fill="#c1b24b" opacity="0.92"/><path d="M197.2 80L200.4 79.4L201.2 84L200.4 89.8L197.2 89.8Z" fill="#958d68" opacity="0.95"/><path d="M203.4 80.4L207.4 80L208.2 86L207.4 89.8L204.4 89.8L203.6 85Z" fill="#d195bb" opacity="0.95"/><path d="M200.8 83.6L203.6 83.6L204.4 89.8L200.4 89.8Z" fill="#9a95c3" opacity="0.95"/></g><rect x="171" y="78" width="65" height="68" filter="url(#spkCol)" opacity="0.5" clip-path="url(#clipA2tis)"/></g>
<rect x="300.6" y="118.9" width="3.2" height="1.9" rx="0.7" fill="#f0524e"/>
<use href="#brainB"/>
<path d="M400.7 103.2C400.57 106.4 399.75 116.23 399.9 122.4C400.05 128.57 400.52 135.18 401.6 140.2C402.68 145.22 404.33 148.62 406.4 152.5C408.47 156.38 412.73 161.67 414 163.5" fill="none" stroke="#f8f8f8" stroke-width="1.1" stroke-linecap="round" opacity="0.92"/>
<path d="M494.7 111C494.68 113.33 494.88 120.33 494.6 125C494.32 129.67 493.83 134.77 493 139C492.17 143.23 491.6 146.45 489.6 150.4C487.6 154.35 482.43 160.65 481 162.7" fill="none" stroke="#f8f8f8" stroke-width="1.1" stroke-linecap="round" opacity="0.92"/>
<use href="#brainB" x="121.8" y="-1.2"/>
<path d="M524.4 112C524.43 114.33 524.45 121.5 524.6 126C524.75 130.5 524.2 134.38 525.3 139C526.4 143.62 529.12 149.78 531.2 153.7C533.28 157.62 536.7 161.03 537.8 162.5" fill="none" stroke="#f8f8f8" stroke-width="1.1" stroke-linecap="round" opacity="0.92"/>
<text x="382" y="160.4" font-family='"Liberation Sans", sans-serif' font-size="2.9" fill="#6a6a6a">s xx</text>
<use href="#brainB3" transform="translate(672 0.4) scale(1.03 1) translate(-446.6 0)"/>
<path d="M703 80C703.67 81.33 705.95 85.33 707 88C708.05 90.67 708.87 93 709.3 96C709.73 99 709.77 102.97 709.6 106C709.43 109.03 709.13 111.03 708.3 114.2C707.47 117.37 706.1 121.65 704.6 125C703.1 128.35 701.57 131.73 699.3 134.3C697.03 136.87 694.05 138.68 691 140.4C687.95 142.12 684.17 143.67 681 144.6C677.83 145.53 675 145.88 672 146C669 146.12 666 145.97 663 145.3C660 144.63 656.67 143.38 654 142C651.33 140.62 649.17 139.33 647 137C644.83 134.67 642.73 131 641 128C639.27 125 637.6 122 636.6 119C635.6 116 635.27 113.17 635 110C634.73 106.83 634.77 103.17 635 100C635.23 96.83 635.63 93.67 636.4 91C637.17 88.33 639.07 85.17 639.6 84" fill="none" stroke="#f8f8f8" stroke-width="1.1" stroke-linecap="round" opacity="0.92"/>
<path d="M625.4 102C625.27 106 624 118.33 624.6 126C625.2 133.67 626.6 141.77 629 148C631.4 154.23 637.33 160.83 639 163.4" fill="none" stroke="#f8f8f8" stroke-width="1.1" stroke-linecap="round" opacity="0.92"/>
<path d="M720.4 102C720.3 106 720.65 118.33 719.8 126C718.95 133.67 717.38 141.77 715.3 148C713.22 154.23 708.63 160.83 707.3 163.4" fill="none" stroke="#f8f8f8" stroke-width="1.1" stroke-linecap="round" opacity="0.92"/>
<g clip-path="url(#clipB2i)"><g filter="url(#b03)"><rect x="537.8" y="65.8" width="62" height="74" fill="#a4c0c2" opacity="0.85"/><path d="M545.8 76.8L552.8 70.4L562.8 69.2L564.4 78.8L559.8 84.8L551.8 82.8Z" fill="#6e6440" opacity="0.9"/><path d="M562.8 69L573.8 68.4L575.2 75.8L569.8 79.8L564.4 78.8Z" fill="#5e9686" opacity="0.9"/><path d="M573.8 68.4L583.4 70.8L584.2 77.8L577.8 81.8L575.2 75.8Z" fill="#c89ca8" opacity="0.9"/><path d="M583.4 70.8L591.4 77.8L594.4 84.8L586.8 85.2L584.2 77.8Z" fill="#c2dcd4" opacity="0.9"/><path d="M586.8 85.2L594.4 84.8L596.8 94.8L591.8 99.8L585.4 92.8Z" fill="#5c9c78" opacity="0.9"/><path d="M591.8 99.8L596.8 94.8L597.4 102.8L592.4 105.4Z" fill="#ae8eb8" opacity="0.9"/><path d="M587.8 105.8L597.4 102.8L596.4 113.2L583.8 113.4Z" fill="#d6d6bc" opacity="0.9"/><path d="M543.2 84.8L545.8 76.8L551.8 82.8L555.8 90.8L548.8 95.8L541.8 94.8Z" fill="#b9a2cc" opacity="0.9"/><path d="M541.8 94.8L548.8 95.8L547.8 99.8L540.8 99.8Z" fill="#b0a890" opacity="0.9"/><path d="M540.6 99.8L547.8 99.8L552.4 106.8L550.8 113.4L540.6 112.8Z" fill="#ccbc54" opacity="0.9"/><path d="M548.8 95.8L555.8 90.8L559.8 84.8L564.4 78.8L565.8 88.8L559.8 96.2L554.4 106.8L552.4 106.8L547.8 99.8Z" fill="#9cbccc" opacity="0.9"/><path d="M556.4 96.8L560.4 95.4L562.2 100.8L558.8 107.4L555.4 104.8Z" fill="#d4c658" opacity="0.9"/><path d="M564.4 78.8L569.8 79.8L572.8 84.8L568.8 88.8L565.8 88.8Z" fill="#669c8a" opacity="0.9"/><path d="M569.8 79.8L575.2 75.8L577.8 81.8L574.2 86.4L572.8 84.8Z" fill="#5c96cc" opacity="0.9"/><path d="M565.4 88.8L568.8 88.8L572.8 84.8L574.2 86.4L577.4 90.4L573.8 95.8L567.8 97.4L564.8 93.8Z" fill="#a86c66" opacity="0.9"/><path d="M577.4 90.4L581.4 87.2L577.8 81.8L584.2 77.8L586.8 85.2L585.4 92.8L581.8 94.8Z" fill="#7eaa92" opacity="0.9"/><path d="M578.4 90.8L582.8 90.2L586.4 94.8L587.2 105.8L583.4 110.8L580.4 104.8L579.6 96.8Z" fill="#6ea6c4" opacity="0.9"/><path d="M561.4 97.4L567.8 97.4L570.2 104.8L568.4 113.8L560.8 114.4L558.8 107.4L562.2 100.8Z" fill="#aeb0bc" opacity="0.9"/><path d="M570.8 98.8L575.8 96.8L579.4 102.8L580.8 110.4L575.8 115.4L571.4 111.8Z" fill="#78a686" opacity="0.9"/><path d="M540.6 112.8L550.8 113.4L560.8 114.4L566.8 118.2L556.4 125.8L543.8 123.4L541.4 117.8Z" fill="#9cd4d4" opacity="0.9"/><path d="M571.4 117.4L575.8 115.4L583.8 113.4L596.4 113.2L594.4 121.8L587.8 125.8L578.8 122.8Z" fill="#9cd4d4" opacity="0.9"/><path d="M543.8 123.4L556.4 125.8L560.2 136.8L552.8 133.2L546.8 127.8Z" fill="#aecae2" opacity="0.9"/><path d="M556.4 125.8L566.8 118.2L569.2 122.8L567.4 131.8L563.4 137.2L560.2 136.8Z" fill="#669672" opacity="0.9"/><path d="M569.2 122.8L573.8 118.8L578.8 122.8L575.4 130.4L569.2 135.8L567.4 131.8Z" fill="#5e8c66" opacity="0.9"/><path d="M578.8 122.8L587.8 125.8L594.4 121.8L590.8 129.8L582.8 135.2L571.8 137.4L569.2 135.8L575.4 130.4Z" fill="#74b48c" opacity="0.9"/><path d="M566.4 117.4L568.6 116.4L569.4 121.8L568.2 126.8L566.4 122.8Z" fill="#c8a0d4" opacity="0.95"/><path d="M569 116.8L572.2 115.4L573.2 119.8L570.4 126.8L568.8 122.8Z" fill="#cc6e62" opacity="0.95"/></g><rect x="536" y="64" width="68" height="80" filter="url(#spkCol)" opacity="0.45"/><rect x="580.2" y="92" width="4.4" height="11" rx="2.1" fill="#fffff2" opacity="0.95"/></g>
<use href="#brainC"/>
<path d="M29.6 362 Q29 397.2 37.6 416.4" fill="none" stroke="#f8f8f8" stroke-width="1.05" opacity="0.92"/><path d="M124.8 370 Q125.4 401.2 116.2 416.4" fill="none" stroke="#f8f8f8" stroke-width="1.05" opacity="0.92"/>
<use href="#brainC" x="125"/>
<path d="M154.6 371 Q154 401.7 162.6 416.4" fill="none" stroke="#f8f8f8" stroke-width="1.05" opacity="0.92"/><path d="M249.6 362 Q250.2 397.2 241.4 416.4" fill="none" stroke="#f8f8f8" stroke-width="1.05" opacity="0.92"/>
<use href="#brainC" x="222.8"/>
<path d="M347.4 362 Q348 397.2 339 416.4" fill="none" stroke="#f8f8f8" stroke-width="1.05" opacity="0.92"/>
<path d="M308.3 367.2 Q309.8 366 311.5 366.8 L313.7 375.6 Q313.2 377.8 311.6 377.4 Q309.6 373 308.3 367.2 Z" fill="#ee6662"/>
<g clip-path="url(#clipC2i)"><g filter="url(#b03)"><rect x="176" y="324" width="62" height="70" fill="#a8c4cc" opacity="0.8"/><path d="M189.6 341L193 334L196.6 329L199.2 327.4L199.2 339L191 340.6Z" fill="#b2aedc" opacity="0.9"/><path d="M191 340.4L199.2 338.6L199.4 351.8L194 351L189.2 346Z" fill="#4a8a8c" opacity="0.9"/><path d="M199.2 327.4L204.2 326.4L204.2 352L199.4 352Z" fill="#8c8450" opacity="0.9"/><path d="M204.2 326.4L210.2 326.4L210 345L204.2 345.6Z" fill="#d294b4" opacity="0.9"/><path d="M204.2 345.6L210 345L211 351L204.2 352Z" fill="#b4a6d2" opacity="0.9"/><path d="M210.2 326.4L217 327.8L217 345L210 345Z" fill="#a696cc" opacity="0.9"/><path d="M217 327.8L223 331L227 336L228 347L221 350.4L217 345Z" fill="#6298b2" opacity="0.9"/><path d="M227 336L231.4 341L234 349L234.8 355.4L228 354.6L228 347Z" fill="#70b292" opacity="0.9"/><path d="M221 350.4L228 347L228 354.6L224 358Z" fill="#86bca0" opacity="0.9"/><path d="M227 356L234.6 355L236 362L229 364L224 361Z" fill="#c6c6ae" opacity="0.9"/><path d="M224 361L229 364L236 362L235.4 372L225 370L221 365Z" fill="#b2a8d8" opacity="0.9"/><path d="M211 345.4L217 345L221 350.4L224 358L221 358.6L215 353.6L211 351Z" fill="#9cc0cc" opacity="0.9"/><path d="M185.4 345.6L189.4 341.4L189.2 346L194 351L191 352.4L184 350Z" fill="#9c84a8" opacity="0.9"/><path d="M180.6 351.6L184 350L191 352L187.6 356.4L181.6 356Z" fill="#c88c84" opacity="0.9"/><path d="M177.8 358L181.6 356L187.6 356.4L189.6 362L187 367.6L179 366.6Z" fill="#d4d4bc" opacity="0.9"/><path d="M187.6 356.4L191 352L194 354L193 359L189.6 362Z" fill="#c2b850" opacity="0.9"/><path d="M191 352L197 350.6L201.4 353.6L200 360L196 363L193 359L194 354Z" fill="#6896c4" opacity="0.9"/><path d="M189.6 362L193 359L196 363L195 368.4L187 367.6Z" fill="#52a4c8" opacity="0.9"/><path d="M196 363L200 360L201.6 366L197 367.6Z" fill="#c4b060" opacity="0.9"/><path d="M201.4 353.6L205 350.4L208.6 351L212.6 353L213.4 358.6L213 364.4L210 368.6L205.4 369.4L201.6 366L200 360Z" fill="#5a7474" opacity="0.8"/><path d="M213.4 358.6L215 353.6L221 358L224 361L221 365L216 366L213 364.4Z" fill="#c4d0c0" opacity="0.9"/><path d="M211.6 365L214 364L216.6 368L214.6 370.6L212 369Z" fill="#bcc43e" opacity="0.9"/><path d="M182 372L187 367.6L195 368.4L198.6 371L191 375L185 381Z" fill="#a8e2e4" opacity="0.9"/><path d="M185 381L191 375L198.6 371L203 369.6L206.6 373L207 384L204 390L197 390.6L190 387Z" fill="#b4a2d4" opacity="0.9"/><path d="M206.6 373L209 369.6L213.6 371.6L215.4 378L214 386L209.6 390L207 388L207 384Z" fill="#d08c7e" opacity="0.9"/><path d="M213.6 371.6L216 366L221 365L225 370L235.4 372L231.4 382L225 381.6L220 384.6L215.4 378Z" fill="#a4dede" opacity="0.9"/><path d="M214 386L215.4 378L220 384.6L225 381.6L228.6 385L225 389L218 392.4L211 391.6Z" fill="#8cc49c" opacity="0.9"/></g><rect x="174" y="322" width="68" height="78" filter="url(#spkCol)" opacity="0.32"/><path d="M203 354 L206 352.4 L207.4 355.4 L211 353.6 L211.6 357 L208.6 358 L207 356.6 L205.4 358 Z" fill="#111" opacity="0.85"/></g>
<path d="M176.4 367.6L179 366.2L181.4 367.4L183.4 366.6L184.4 369L182.4 370.4L183 372.6L180.6 373L179.6 374.6L177.4 373.6L177.6 371.4L175.8 370Z" fill="#040404"/>
<path d="M72.2 68.8L72.2 48.3A15 15 0 0 1 87.2 33.3L294.1 33.3A14.5 14.5 0 0 1 308.6 47.8L308.6 51.4L310 51.4L300.6 60.4L292.1 51.4L293.69 51.4L293.69 50.5A1.5 1.5 0 0 0 292.19 49L90.2 49A3.2 3.2 0 0 0 87 52.2L87 68.8 Z" fill="#bfbfbf"/>
<text x="189.1" y="44.7" font-family='"Liberation Sans", sans-serif' font-size="11.85" fill="#0b0b2a" stroke="#0b0b2a" stroke-width="0.15" text-anchor="middle" textLength="106.8" lengthAdjust="spacingAndGlyphs">Hemorrhage Region</text>
<path d="M114.1 103.1L152.1 103.1L152.1 94.9L167.8 109.95L152.1 125L152.1 116.6L114.1 116.6Z" fill="#bfbfbf"/>
<text x="136.85" y="113.4" font-family='"Liberation Sans", sans-serif' font-size="10.1" fill="#0b0b2a" stroke="#0b0b2a" stroke-width="0.15" text-anchor="middle" textLength="31.6" lengthAdjust="spacingAndGlyphs">MPUM</text>
<path d="M198.7 167.5L202.8 167.5L202.8 182.8L297.4 182.8L297.4 167.5L301.5 167.5L301.5 186.6L193.4 186.6L193.4 201.2L189.3 201.2L189.3 182.8L198.7 182.8Z M184.85 201.2 A6.5 6.5 0 0 1 197.85 201.2 Z" fill="#bfbfbf"/>
<rect x="73.4" y="201.7" width="235.9" height="19" fill="url(#lbg1)"/>
<text x="90.11" y="215.4" fill="#0b0b2a" font-family='"Liberation Serif", serif' font-size="11.5" stroke="#0b0b2a" stroke-width="0.1" textLength="39.2" lengthAdjust="spacingAndGlyphs">190mm</text>
<text x="129.81" y="211.2" fill="#0b0b2a" font-family='"Liberation Serif", serif' font-size="7.9" stroke="#0b0b2a" stroke-width="0.2">3</text>
<text x="139.11" y="215.4" fill="#0b0b2a" stroke="#0b0b2a" stroke-width="0.12" font-family='"Liberation Sans", sans-serif' font-size="11.88" textLength="151.89" lengthAdjust="spacingAndGlyphs">hemorrhage in the brainstem</text>
<path d="M438.4 66.8L438.4 46.1A15 15 0 0 1 453.4 31.1L662 31.1A12.8 12.8 0 0 1 674.8 43.9L674.8 49.3L676 49.3L666.9 57.8L658 49.3L660.45 49.3L660.45 47.7A1.5 1.5 0 0 0 658.95 46.2L457.2 46.2A3.2 3.2 0 0 0 454 49.4L454 66.8 Z" fill="#bfbfbf"/>
<text x="554.9" y="43" font-family='"Liberation Sans", sans-serif' font-size="11.85" fill="#0b0b2a" stroke="#0b0b2a" stroke-width="0.15" text-anchor="middle" textLength="106.8" lengthAdjust="spacingAndGlyphs">Hemorrhage Region</text>
<path d="M479.8 100.5L518.1 100.5L518.1 92.4L533.3 107.2L518.1 122L518.1 113.6L479.8 113.6Z" fill="#bfbfbf"/>
<text x="503.4" y="110.8" font-family='"Liberation Sans", sans-serif' font-size="10.1" fill="#0b0b2a" stroke="#0b0b2a" stroke-width="0.15" text-anchor="middle" textLength="31.6" lengthAdjust="spacingAndGlyphs">MPUM</text>
<path d="M575.3 163.5L579.6 163.5L579.6 177.2L673.7 177.2L673.7 163.5L678.2 163.5L678.2 181.8L570.4 181.8L570.4 196L566 196L566 177.2L575.3 177.2Z M561.7 196 A6.5 6.5 0 0 1 574.7 196 Z" fill="#bfbfbf"/>
<rect x="431.3" y="196.7" width="252.5" height="65.5" fill="url(#lbg2)"/>
<text x="458.2" y="210.3" fill="#0b0b2a" font-family='"Liberation Serif", serif' font-size="11.5" stroke="#0b0b2a" stroke-width="0.1" textLength="45.2" lengthAdjust="spacingAndGlyphs">3868mm</text>
<text x="503.9" y="206.1" fill="#0b0b2a" font-family='"Liberation Serif", serif' font-size="7.9" stroke="#0b0b2a" stroke-width="0.2">3</text>
<text x="513.2" y="210.3" fill="#0b0b2a" stroke="#0b0b2a" stroke-width="0.12" font-family='"Liberation Sans", sans-serif' font-size="11.88" textLength="141.99" lengthAdjust="spacingAndGlyphs">hemorrhage in the L-Insula</text>
<text x="450.28" y="225.27" fill="#0b0b2a" font-family='"Liberation Serif", serif' font-size="11.5" stroke="#0b0b2a" stroke-width="0.1" textLength="45.2" lengthAdjust="spacingAndGlyphs">2241mm</text>
<text x="495.98" y="221.07" fill="#0b0b2a" font-family='"Liberation Serif", serif' font-size="7.9" stroke="#0b0b2a" stroke-width="0.2">3</text>
<text x="505.28" y="225.27" fill="#0b0b2a" stroke="#0b0b2a" stroke-width="0.12" font-family='"Liberation Sans", sans-serif' font-size="11.88" textLength="157.84" lengthAdjust="spacingAndGlyphs">hemorrhage in the L-Putamen</text>
<text x="454.28" y="240.24" fill="#0b0b2a" font-family='"Liberation Serif", serif' font-size="11.5" stroke="#0b0b2a" stroke-width="0.1" textLength="39.2" lengthAdjust="spacingAndGlyphs">181mm</text>
<text x="493.98" y="236.04" fill="#0b0b2a" font-family='"Liberation Serif", serif' font-size="7.9" stroke="#0b0b2a" stroke-width="0.2">3</text>
<text x="503.28" y="240.24" fill="#0b0b2a" stroke="#0b0b2a" stroke-width="0.12" font-family='"Liberation Sans", sans-serif' font-size="11.88" textLength="155.85" lengthAdjust="spacingAndGlyphs">hemorrhage in the L-Pallidum</text>
<text x="449.98" y="255.21" fill="#0b0b2a" font-family='"Liberation Serif", serif' font-size="11.5" stroke="#0b0b2a" stroke-width="0.1" textLength="39.2" lengthAdjust="spacingAndGlyphs">168mm</text>
<text x="489.68" y="251.01" fill="#0b0b2a" font-family='"Liberation Serif", serif' font-size="7.9" stroke="#0b0b2a" stroke-width="0.2">3</text>
<text x="498.98" y="255.21" fill="#0b0b2a" stroke="#0b0b2a" stroke-width="0.12" font-family='"Liberation Sans", sans-serif' font-size="11.88" textLength="164.43" lengthAdjust="spacingAndGlyphs">hemorrhage in the L-Precentral</text>
<path d="M73 322.2L73 301A15 15 0 0 1 88 286L297 286A12.8 12.8 0 0 1 309.8 298.8L309.8 304L311.1 304L302.1 312.7L293 304L295.26 304L295.26 302.8A1.5 1.5 0 0 0 293.76 301.3L91.7 301.3A3.2 3.2 0 0 0 88.5 304.5L88.5 322.2 Z" fill="#bfbfbf"/>
<text x="189.9" y="298" font-family='"Liberation Sans", sans-serif' font-size="11.85" fill="#0b0b2a" stroke="#0b0b2a" stroke-width="0.15" text-anchor="middle" textLength="106.8" lengthAdjust="spacingAndGlyphs">Hemorrhage Region</text>
<path d="M115.7 355.4L153.3 355.4L153.3 347.7L169.2 362.45L153.3 377.2L153.3 369L115.7 369Z" fill="#bfbfbf"/>
<text x="138.4" y="365.7" font-family='"Liberation Sans", sans-serif' font-size="10.1" fill="#0b0b2a" stroke="#0b0b2a" stroke-width="0.15" text-anchor="middle" textLength="31.6" lengthAdjust="spacingAndGlyphs">MPUM</text>
<path d="M205.7 416.5L209.8 416.5L209.8 430.4L303.6 430.4L303.6 416.5L308 416.5L308 434.8L199.8 434.8L199.8 449L195.6 449L195.6 430.4L205.7 430.4Z M191.2 449 A6.5 6.5 0 0 1 204.2 449 Z" fill="#bfbfbf"/>
<rect x="11.4" y="449.7" width="372.7" height="64.3" fill="url(#lbg3)"/>
<text x="53.44" y="462.3" fill="#0b0b2a" font-family='"Liberation Serif", serif' font-size="11.5" stroke="#0b0b2a" stroke-width="0.1" textLength="45.2" lengthAdjust="spacingAndGlyphs">1221mm</text>
<text x="99.14" y="458.1" fill="#0b0b2a" font-family='"Liberation Serif", serif' font-size="7.9" stroke="#0b0b2a" stroke-width="0.2">3</text>
<text x="108.44" y="462.3" fill="#0b0b2a" stroke="#0b0b2a" stroke-width="0.12" font-family='"Liberation Sans", sans-serif' font-size="11.88" textLength="233.11" lengthAdjust="spacingAndGlyphs">hemorrhage in the L-Posterior temporal lobe</text>
<text x="79.52" y="477.27" fill="#0b0b2a" font-family='"Liberation Serif", serif' font-size="11.5" stroke="#0b0b2a" stroke-width="0.1" textLength="45.2" lengthAdjust="spacingAndGlyphs">1082mm</text>
<text x="125.22" y="473.07" fill="#0b0b2a" font-family='"Liberation Serif", serif' font-size="7.9" stroke="#0b0b2a" stroke-width="0.2">3</text>
<text x="134.52" y="477.27" fill="#0b0b2a" stroke="#0b0b2a" stroke-width="0.12" font-family='"Liberation Sans", sans-serif' font-size="11.88" textLength="180.96" lengthAdjust="spacingAndGlyphs">hemorrhage in the L-Lingual gyrus</text>
<text x="87.48" y="492.24" fill="#0b0b2a" font-family='"Liberation Serif", serif' font-size="11.5" stroke="#0b0b2a" stroke-width="0.1" textLength="39.2" lengthAdjust="spacingAndGlyphs">386mm</text>
<text x="127.18" y="488.04" fill="#0b0b2a" font-family='"Liberation Serif", serif' font-size="7.9" stroke="#0b0b2a" stroke-width="0.2">3</text>
<text x="136.48" y="492.24" fill="#0b0b2a" stroke="#0b0b2a" stroke-width="0.12" font-family='"Liberation Sans", sans-serif' font-size="11.88" textLength="171.04" lengthAdjust="spacingAndGlyphs">hemorrhage in the L-Cerebellum</text>
<text x="25.07" y="507.21" fill="#0b0b2a" font-family='"Liberation Serif", serif' font-size="11.5" stroke="#0b0b2a" stroke-width="0.1" textLength="39.2" lengthAdjust="spacingAndGlyphs">106mm</text>
<text x="64.77" y="503.01" fill="#0b0b2a" font-family='"Liberation Serif", serif' font-size="7.9" stroke="#0b0b2a" stroke-width="0.2">3</text>
<text x="74.07" y="507.21" fill="#0b0b2a" stroke="#0b0b2a" stroke-width="0.12" font-family='"Liberation Sans", sans-serif' font-size="11.88" textLength="295.85" lengthAdjust="spacingAndGlyphs">hemorrhage in the L-Parahippocampal-and-ambient-gyri</text>
<rect x="395.7" y="281.4" width="333.6" height="254.2" rx="12.5" ry="12.5" fill="#dbdbdb" stroke="#2c468c" stroke-width="1.35"/>
<text x="406" y="299" font-family='"Liberation Sans", sans-serif' font-size="10.9" font-weight="bold" fill="#000" textLength="173.6" lengthAdjust="spacingAndGlyphs">b Diagnostic Accuracy Comparion</text>
<text x="567.1" y="307.9" font-family='"Liberation Sans", sans-serif' font-size="5.7" fill="#111" text-anchor="middle" textLength="140.6" lengthAdjust="spacingAndGlyphs">Diagnostic Accuracy (Senior vs. Junior Attempts)</text>
<rect x="438.3" y="327.3" width="15.1" height="170" fill="#4a8bc0"/>
<rect x="453.4" y="339.37" width="15.9" height="157.93" fill="#4a8bc0"/>
<rect x="468.8" y="351.61" width="15.2" height="145.69" fill="#4a8bc0"/>
<rect x="509.1" y="363.68" width="15" height="133.62" fill="#659cd8"/>
<rect x="524.1" y="345.49" width="15.5" height="151.81" fill="#a0c8f0"/>
<rect x="539.6" y="333.42" width="15.5" height="163.88" fill="#c8e2fb"/>
<rect x="579.1" y="369.8" width="14.9" height="127.5" fill="#659cd8"/>
<rect x="594" y="357.73" width="16.2" height="139.57" fill="#a0c8f0"/>
<rect x="610.2" y="351.61" width="15.6" height="145.69" fill="#c8e2fb"/>
<rect x="650.1" y="394.11" width="14.9" height="103.19" fill="#659cd8"/>
<rect x="665" y="369.8" width="15.8" height="127.5" fill="#a0c8f0"/>
<rect x="680.8" y="345.49" width="15.4" height="151.81" fill="#c8e2fb"/>
<line x1="425.4" x2="708.8" y1="463.3" y2="463.3" stroke="#d2d2d2" stroke-width="0.55" stroke-dasharray="2.2 0.8" opacity="0.75"/>
<line x1="425.4" x2="708.8" y1="429.3" y2="429.3" stroke="#d2d2d2" stroke-width="0.55" stroke-dasharray="2.2 0.8" opacity="0.75"/>
<line x1="425.4" x2="708.8" y1="395.3" y2="395.3" stroke="#d2d2d2" stroke-width="0.55" stroke-dasharray="2.2 0.8" opacity="0.75"/>
<line x1="425.4" x2="708.8" y1="361.3" y2="361.3" stroke="#d2d2d2" stroke-width="0.55" stroke-dasharray="2.2 0.8" opacity="0.75"/>
<line x1="425.4" x2="708.8" y1="327.3" y2="327.3" stroke="#d2d2d2" stroke-width="0.55" stroke-dasharray="2.2 0.8" opacity="0.75"/>
<line x1="539.6" x2="539.6" y1="345.49" y2="497.3" stroke="#d4e2f2" stroke-width="0.5" opacity="0.8"/>
<line x1="610.2" x2="610.2" y1="357.73" y2="497.3" stroke="#d4e2f2" stroke-width="0.5" opacity="0.8"/>
<line x1="680.8" x2="680.8" y1="369.8" y2="497.3" stroke="#d4e2f2" stroke-width="0.5" opacity="0.8"/>
<line x1="453.5" x2="453.5" y1="327.3" y2="497.3" stroke="#e8eef5" stroke-width="0.9"/>
<text x="445.85" y="326" font-family='"Liberation Sans", sans-serif' font-size="4.4" font-weight="bold" fill="#111" text-anchor="middle">100.0%</text>
<text x="461.35" y="338.07" font-family='"Liberation Sans", sans-serif' font-size="4.4" font-weight="bold" fill="#111" text-anchor="middle">92.9%</text>
<text x="476.4" y="350.31" font-family='"Liberation Sans", sans-serif' font-size="4.4" font-weight="bold" fill="#111" text-anchor="middle">85.7%</text>
<text x="516.6" y="362.38" font-family='"Liberation Sans", sans-serif' font-size="4.4" font-weight="bold" fill="#111" text-anchor="middle">78.6%</text>
<text x="531.85" y="344.19" font-family='"Liberation Sans", sans-serif' font-size="4.4" font-weight="bold" fill="#111" text-anchor="middle">89.3%</text>
<text x="547.35" y="332.12" font-family='"Liberation Sans", sans-serif' font-size="4.4" font-weight="bold" fill="#111" text-anchor="middle">96.4%</text>
<text x="586.55" y="368.5" font-family='"Liberation Sans", sans-serif' font-size="4.4" font-weight="bold" fill="#111" text-anchor="middle">75.0%</text>
<text x="602.1" y="356.43" font-family='"Liberation Sans", sans-serif' font-size="4.4" font-weight="bold" fill="#111" text-anchor="middle">82.1%</text>
<text x="618" y="350.31" font-family='"Liberation Sans", sans-serif' font-size="4.4" font-weight="bold" fill="#111" text-anchor="middle">85.7%</text>
<text x="657.55" y="392.81" font-family='"Liberation Sans", sans-serif' font-size="4.4" font-weight="bold" fill="#111" text-anchor="middle">60.7%</text>
<text x="672.9" y="368.5" font-family='"Liberation Sans", sans-serif' font-size="4.4" font-weight="bold" fill="#111" text-anchor="middle">75.0%</text>
<text x="688.5" y="344.19" font-family='"Liberation Sans", sans-serif' font-size="4.4" font-weight="bold" fill="#111" text-anchor="middle">89.3%</text>
<rect x="425.4" y="310.6" width="283.4" height="186.7" fill="none" stroke="#000" stroke-width="1"/>
<line x1="422.8" x2="425.4" y1="497.3" y2="497.3" stroke="#000" stroke-width="0.7"/>
<text x="421.8" y="499.6" font-family='"Liberation Sans", sans-serif' font-size="5.4" fill="#111" text-anchor="end">0</text>
<line x1="422.8" x2="425.4" y1="463.3" y2="463.3" stroke="#000" stroke-width="0.7"/>
<text x="421.8" y="465.6" font-family='"Liberation Sans", sans-serif' font-size="5.4" fill="#111" text-anchor="end">20</text>
<line x1="422.8" x2="425.4" y1="429.3" y2="429.3" stroke="#000" stroke-width="0.7"/>
<text x="421.8" y="431.6" font-family='"Liberation Sans", sans-serif' font-size="5.4" fill="#111" text-anchor="end">40</text>
<line x1="422.8" x2="425.4" y1="395.3" y2="395.3" stroke="#000" stroke-width="0.7"/>
<text x="421.8" y="397.6" font-family='"Liberation Sans", sans-serif' font-size="5.4" fill="#111" text-anchor="end">60</text>
<line x1="422.8" x2="425.4" y1="361.3" y2="361.3" stroke="#000" stroke-width="0.7"/>
<text x="421.8" y="363.6" font-family='"Liberation Sans", sans-serif' font-size="5.4" fill="#111" text-anchor="end">80</text>
<line x1="422.8" x2="425.4" y1="327.3" y2="327.3" stroke="#000" stroke-width="0.7"/>
<text x="421.8" y="329.6" font-family='"Liberation Sans", sans-serif' font-size="5.4" fill="#111" text-anchor="end">100</text>
<text transform="translate(410.3 404) rotate(-90)" font-family='"Liberation Sans", sans-serif' font-size="5.2" fill="#111" text-anchor="middle">Accuracy (%)</text>
<rect x="447.9" y="315" width="10.6" height="3.9" fill="#4a8bc0"/>
<text x="461.6" y="319.3" font-family='"Liberation Sans", sans-serif' font-size="5.2" fill="#111" textLength="25.6" lengthAdjust="spacingAndGlyphs">Senior(CT)</text>
<rect x="496.8" y="315" width="10.6" height="3.9" fill="#659cd8"/>
<text x="510.3" y="319.3" font-family='"Liberation Sans", sans-serif' font-size="5.2" fill="#111" textLength="23.8" lengthAdjust="spacingAndGlyphs">Junior(CT)</text>
<rect x="543.1" y="315" width="10.6" height="3.9" fill="#a0c8f0"/>
<text x="557.2" y="319.3" font-family='"Liberation Sans", sans-serif' font-size="5.2" fill="#111" textLength="43.3" lengthAdjust="spacingAndGlyphs">Junior(CT+Lesion)</text>
<rect x="610" y="315" width="10.6" height="3.9" fill="#c8e2fb"/>
<text x="623.8" y="319.3" font-family='"Liberation Sans", sans-serif' font-size="5.2" fill="#111" textLength="62.3" lengthAdjust="spacingAndGlyphs">Junior(CT+Lesion+MPUM)</text>
<line x1="445.8" x2="445.8" y1="497.3" y2="499.9" stroke="#000" stroke-width="0.7"/>
<text transform="translate(445.6 503.7) rotate(-33.3)" font-family='"Liberation Sans", sans-serif' font-size="5.25" fill="#111" text-anchor="end" textLength="19.9" lengthAdjust="spacingAndGlyphs">Senior1</text>
<line x1="461.1" x2="461.1" y1="497.3" y2="499.9" stroke="#000" stroke-width="0.7"/>
<text transform="translate(460.9 503.7) rotate(-33.3)" font-family='"Liberation Sans", sans-serif' font-size="5.25" fill="#111" text-anchor="end" textLength="19.9" lengthAdjust="spacingAndGlyphs">Senior2</text>
<line x1="476.4" x2="476.4" y1="497.3" y2="499.9" stroke="#000" stroke-width="0.7"/>
<text transform="translate(476.2 503.7) rotate(-33.3)" font-family='"Liberation Sans", sans-serif' font-size="5.25" fill="#111" text-anchor="end" textLength="19.9" lengthAdjust="spacingAndGlyphs">Senior3</text>
<line x1="516.6" x2="516.6" y1="497.3" y2="499.9" stroke="#000" stroke-width="0.7"/>
<text transform="translate(516.4 503.7) rotate(-33.3)" font-family='"Liberation Sans", sans-serif' font-size="5.25" fill="#111" text-anchor="end" textLength="6.8" lengthAdjust="spacingAndGlyphs">CT</text>
<line x1="531.8" x2="531.8" y1="497.3" y2="499.9" stroke="#000" stroke-width="0.7"/>
<text transform="translate(531.6 503.7) rotate(-33.3)" font-family='"Liberation Sans", sans-serif' font-size="5.25" fill="#111" text-anchor="end" textLength="27.9" lengthAdjust="spacingAndGlyphs">CT+Lesion</text>
<line x1="547.3" x2="547.3" y1="497.3" y2="499.9" stroke="#000" stroke-width="0.7"/>
<text transform="translate(547.1 503.7) rotate(-33.3)" font-family='"Liberation Sans", sans-serif' font-size="5.25" fill="#111" text-anchor="end" textLength="48.2" lengthAdjust="spacingAndGlyphs">CT+Lesion+MPUM</text>
<line x1="586.5" x2="586.5" y1="497.3" y2="499.9" stroke="#000" stroke-width="0.7"/>
<text transform="translate(586.3 503.7) rotate(-33.3)" font-family='"Liberation Sans", sans-serif' font-size="5.25" fill="#111" text-anchor="end" textLength="6.8" lengthAdjust="spacingAndGlyphs">CT</text>
<line x1="602.1" x2="602.1" y1="497.3" y2="499.9" stroke="#000" stroke-width="0.7"/>
<text transform="translate(601.9 503.7) rotate(-33.3)" font-family='"Liberation Sans", sans-serif' font-size="5.25" fill="#111" text-anchor="end" textLength="27.9" lengthAdjust="spacingAndGlyphs">CT+Lesion</text>
<line x1="618" x2="618" y1="497.3" y2="499.9" stroke="#000" stroke-width="0.7"/>
<text transform="translate(617.8 503.7) rotate(-33.3)" font-family='"Liberation Sans", sans-serif' font-size="5.25" fill="#111" text-anchor="end" textLength="48.2" lengthAdjust="spacingAndGlyphs">CT+Lesion+MPUM</text>
<line x1="657.5" x2="657.5" y1="497.3" y2="499.9" stroke="#000" stroke-width="0.7"/>
<text transform="translate(657.3 503.7) rotate(-33.3)" font-family='"Liberation Sans", sans-serif' font-size="5.25" fill="#111" text-anchor="end" textLength="6.8" lengthAdjust="spacingAndGlyphs">CT</text>
<line x1="672.9" x2="672.9" y1="497.3" y2="499.9" stroke="#000" stroke-width="0.7"/>
<text transform="translate(672.7 503.7) rotate(-33.3)" font-family='"Liberation Sans", sans-serif' font-size="5.25" fill="#111" text-anchor="end" textLength="27.9" lengthAdjust="spacingAndGlyphs">CT+Lesion</text>
<line x1="688.5" x2="688.5" y1="497.3" y2="499.9" stroke="#000" stroke-width="0.7"/>
<text transform="translate(688.3 503.7) rotate(-33.3)" font-family='"Liberation Sans", sans-serif' font-size="5.25" fill="#111" text-anchor="end" textLength="48.2" lengthAdjust="spacingAndGlyphs">CT+Lesion+MPUM</text>
<text x="538.9" y="520.6" font-family='"Liberation Sans", sans-serif' font-size="7.75" fill="#151540" text-anchor="middle">Junior1</text>
<text x="612" y="519.9" font-family='"Liberation Sans", sans-serif' font-size="7.75" fill="#151540" text-anchor="middle">Junior2</text>
<text x="679.8" y="521.7" font-family='"Liberation Sans", sans-serif' font-size="7.75" fill="#151540" text-anchor="middle">Junior3</text>
</svg>
</body></html>
